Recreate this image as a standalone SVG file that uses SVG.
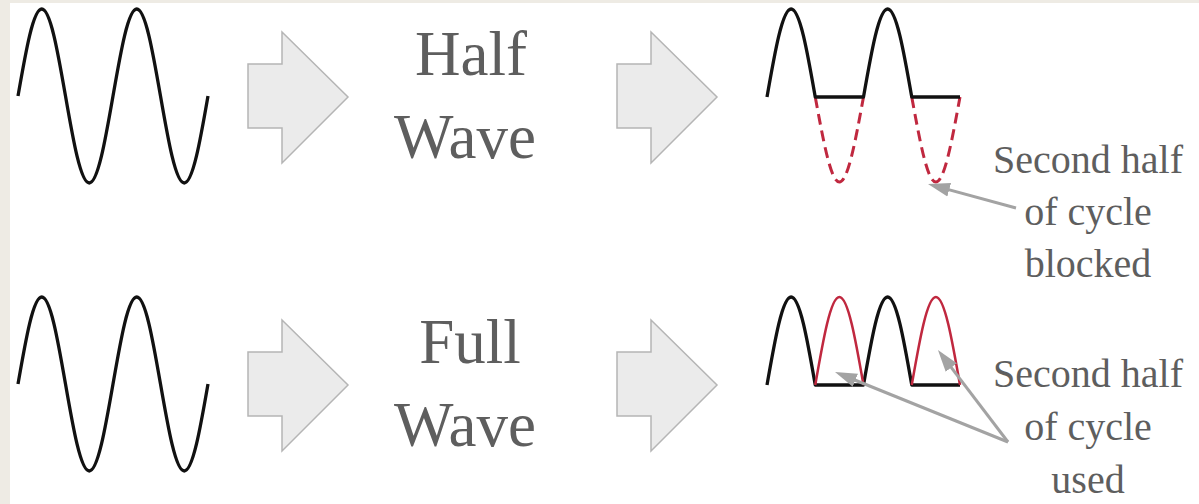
<svg xmlns="http://www.w3.org/2000/svg" width="1199" height="504" viewBox="0 0 1199 504">
<defs>
<style>
.wave{fill:none;stroke:#111;stroke-width:3.3;stroke-linejoin:round}
.red{fill:none;stroke:#c0283f;stroke-width:2.5}
.dash{fill:none;stroke:#c0283f;stroke-width:3;stroke-dasharray:11 6}
.blk{fill:#ebebeb;stroke:#b5b5b5;stroke-width:1.5}
.big{font-family:'Liberation Serif','Times New Roman',serif;font-size:63px;fill:#5e5e5e;text-anchor:middle}
.small{font-family:'Liberation Serif','Times New Roman',serif;font-size:40px;fill:#5e5e5e;text-anchor:middle}
.ptr{fill:none;stroke:#a3a3a3;stroke-width:3}
</style>
<marker id="ah" markerUnits="userSpaceOnUse" markerWidth="24" markerHeight="16" viewBox="0 0 24 16" refX="14" refY="8" orient="auto">
<path d="M0,1 L22,8 L0,15 Z" fill="#a3a3a3"/>
</marker>
<path id="sine" d="M18,96 C25.75,51.4 33.15,9 41.75,9 C50.35,9 57.75,51.4 65.5,96 C73.25,140.6 80.650,183 89.25,183 C97.85,183 105.25,140.6 113,96 C120.75,51.4 128.15,9 136.75,9 C145.35,9 152.75,51.4 160.5,96 C168.25,140.6 175.65,183 184.25,183 C192.85,183 200.25,140.6 208,96"/>
<polygon id="blockArrow" points="0,64 34,64 34,32 100,97 34,163 34,128 0,128"/>
</defs>
<rect x="0" y="0" width="1199" height="504" fill="#ffffff"/>
<rect x="0" y="0" width="10" height="504" fill="#eeebe4"/>
<rect x="0" y="0" width="1199" height="3" fill="#eeebe4"/>

<g id="input-half">
<use href="#sine" class="wave"/>
</g>
<g id="arrow-half-1"><use href="#blockArrow" class="blk" transform="translate(248,0)"/></g>
<g id="label-half">
<text class="big" x="471" y="75">Half</text>
<text class="big" x="465" y="158">Wave</text>
</g>
<g id="arrow-half-2"><use href="#blockArrow" class="blk" transform="translate(617,0)"/></g>
<g id="output-half">
<path class="dash" d="M815.25,97 C823.12,139.5 830.64,182 839.375,182 C848.11,182 855.63,139.5 863.5,97"/>
<path class="dash" d="M911.75,97 C919.62,139.5 927.14,182 935.875,182 C944.61,182 952.13,139.5 960,97"/>
<path class="wave" d="M767,97 C774.87,51.9 782.39,9 791.125,9 C799.86,9 807.38,51.9 815.25,97 L863.5,97 C871.37,51.9 878.89,9 887.625,9 C896.36,9 903.88,51.9 911.75,97 L960,97"/>
</g>
<g id="note-half">
<text class="small" x="1088" y="173">Second half</text>
<text class="small" x="1088" y="225">of cycle</text>
<text class="small" x="1088" y="277">blocked</text>
</g>

<g id="input-full">
<use href="#sine" class="wave" transform="translate(0,288)"/>
</g>
<g id="arrow-full-1"><use href="#blockArrow" class="blk" transform="translate(248,288)"/></g>
<g id="label-full">
<text class="big" x="470" y="363">Full</text>
<text class="big" x="465" y="446">Wave</text>
</g>
<g id="arrow-full-2"><use href="#blockArrow" class="blk" transform="translate(617,288)"/></g>
<g id="output-full" transform="translate(0,288)">
<path class="wave" d="M767,97 C774.87,51.9 782.39,9 791.125,9 C799.86,9 807.38,51.9 815.25,97 L863.5,97 C871.37,51.9 878.89,9 887.625,9 C896.36,9 903.88,51.9 911.75,97 L960,97"/>
<path class="red" d="M815.25,97 C823.12,51.9 830.64,9 839.375,9 C848.11,9 855.63,51.9 863.5,97"/>
<path class="red" d="M911.75,97 C919.62,51.9 927.14,9 935.875,9 C944.61,9 952.13,51.9 960,97"/>
</g>
<g id="note-full">
<text class="small" x="1088" y="387">Second half</text>
<text class="small" x="1088" y="440">of cycle</text>
<text class="small" x="1088" y="493">used</text>
</g>

<g id="connectors">
<line class="ptr" x1="1016" y1="208" x2="935.7" y2="186.1" marker-end="url(#ah)"/>
<line class="ptr" x1="1008" y1="442" x2="842.4" y2="375" marker-end="url(#ah)"/>
<line class="ptr" x1="1008" y1="442" x2="942.8" y2="356.4" marker-end="url(#ah)"/>
</g>
</svg>
